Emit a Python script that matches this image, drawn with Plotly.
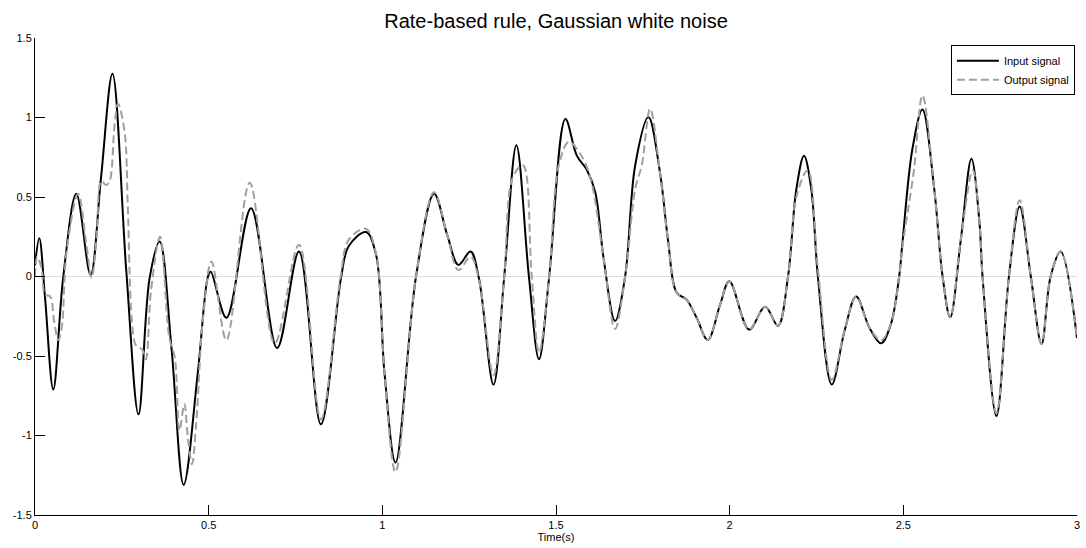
import plotly.graph_objects as go

# ---- data ----
input_t = [0.000, 0.0124, 0.029, 0.0526, 0.081, 0.119, 0.160, 0.190, 0.223, 0.263,
           0.298, 0.330, 0.359, 0.393, 0.428, 0.469, 0.498, 0.506, 0.551, 0.622,
           0.697, 0.760, 0.823, 0.881, 0.903, 0.953, 0.982, 1.006, 1.038, 1.097,
           1.149, 1.187, 1.219, 1.254, 1.278, 1.320, 1.351, 1.386, 1.422, 1.451,
           1.480, 1.527, 1.560, 1.589, 1.613, 1.637, 1.670, 1.699, 1.728, 1.766,
           1.799, 1.823, 1.847, 1.876, 1.905, 1.937, 1.972, 1.999, 2.056, 2.102,
           2.139, 2.168, 2.192, 2.214, 2.235, 2.254, 2.294, 2.331, 2.364, 2.402,
           2.436, 2.464, 2.488, 2.497, 2.526, 2.555, 2.589, 2.613, 2.635, 2.666,
           2.696, 2.719, 2.728, 2.768, 2.804, 2.835, 2.867, 2.898, 2.924, 2.953,
           3.000]
input_v = [0.07, 0.24, -0.136, -0.71, -0.01, 0.52, 0.01, 0.62, 1.275, 0.03,
           -0.867, -0.01, 0.22, -0.45, -1.31, -0.60, 0.00, 0.03, -0.26, 0.43,
           -0.45, 0.157, -0.93, -0.01, 0.19, 0.28, 0.136, -0.60, -1.17, 0.00,
           0.52, 0.26, 0.073, 0.157, -0.01, -0.68, 0.00, 0.825, 0.00, -0.52,
           -0.01, 0.99, 0.76, 0.67, 0.53, 0.115, -0.28, 0.00, 0.70, 1.003,
           0.66, 0.22, -0.10, -0.146, -0.26, -0.40, -0.18, -0.03, -0.334, -0.19,
           -0.31, 0.00, 0.55, 0.76, 0.55, 0.00, -0.68, -0.34, -0.125, -0.32,
           -0.42, -0.30, 0.00, 0.20, 0.80, 1.05, 0.55, 0.00, -0.257, 0.24,
           0.74, 0.345, 0.00, -0.878, 0.00, 0.44, 0.00, -0.424, 0.00, 0.157,
           -0.387]

output_t = [0.000, 0.0066, 0.019, 0.029, 0.0435, 0.055, 0.067, 0.077, 0.091, 0.124,
            0.148, 0.163, 0.177, 0.191, 0.205, 0.215, 0.229, 0.239, 0.258, 0.267,
            0.279, 0.290, 0.309, 0.319, 0.334, 0.360, 0.387, 0.4025, 0.416, 0.430,
            0.440, 0.452, 0.464, 0.483, 0.508, 0.551, 0.618, 0.690, 0.760, 0.823,
            0.880, 0.903, 0.953, 0.982, 1.006, 1.038, 1.097, 1.149, 1.187, 1.219,
            1.254, 1.278, 1.320, 1.351, 1.375, 1.405, 1.430, 1.451, 1.480, 1.508,
            1.537, 1.570, 1.599, 1.637, 1.670, 1.699, 1.728, 1.747, 1.771, 1.799,
            1.823, 1.847, 1.876, 1.905, 1.937, 1.972, 1.999, 2.056, 2.102, 2.139,
            2.168, 2.192, 2.225, 2.254, 2.294, 2.331, 2.364, 2.402, 2.436, 2.464,
            2.488, 2.497, 2.530, 2.555, 2.589, 2.613, 2.635, 2.666, 2.700, 2.719,
            2.728, 2.768, 2.804, 2.835, 2.867, 2.898, 2.924, 2.953, 3.000]
output_v = [0.00, 0.125, 0.05, -0.115, -0.125, -0.28, -0.40, -0.32, 0.157, 0.52,
            0.20, -0.01, 0.24, 0.60, 0.575, 0.60, 0.95, 1.087, 0.91, 0.45,
            -0.28, -0.43, -0.46, -0.52, -0.09, 0.25, -0.39, -0.51, -0.97, -0.80,
            -1.01, -1.18, -0.93, -0.28, 0.095, -0.40, 0.59, -0.42, 0.20, -0.90,
            0.00, 0.23, 0.30, 0.14, -0.60, -1.23, 0.00, 0.53, 0.26, 0.04,
            0.125, -0.02, -0.62, 0.00, 0.62, 0.70, 0.00, -0.48, -0.01, 0.70,
            0.846, 0.77, 0.62, 0.115, -0.33, 0.00, 0.55, 0.70, 1.055, 0.66,
            0.22, -0.10, -0.146, -0.26, -0.40, -0.18, -0.03, -0.334, -0.19, -0.31,
            0.00, 0.50, 0.67, 0.05, -0.65, -0.34, -0.125, -0.32, -0.40, -0.30,
            0.00, 0.18, 0.66, 1.14, 0.55, 0.00, -0.257, 0.24, 0.67, 0.345,
            0.00, -0.86, 0.00, 0.48, 0.00, -0.424, 0.00, 0.157, -0.387]

x_tickvals = [0, 0.5, 1, 1.5, 2, 2.5, 3]
x_ticktext = ["0", "0.5", "1", "1.5", "2", "2.5", "3"]
y_tickvals = [-1.5, -1, -0.5, 0, 0.5, 1, 1.5]
y_ticktext = ["-1.5", "-1", "-0.5", "0", "0.5", "1", "1.5"]

FONT = "Liberation Sans, Arial, sans-serif"

fig = go.Figure()
fig.add_trace(go.Scatter(
    x=input_t, y=input_v, mode="lines", name="Input signal",
    line=dict(color="#000000", width=2, shape="spline", smoothing=1.0),
))
fig.add_trace(go.Scatter(
    x=output_t, y=output_v, mode="lines", name="Output signal",
    line=dict(color="#a0a0a0", width=2, dash="8px,4px", shape="spline", smoothing=1.0),
))

fig.update_layout(
    width=1086, height=548,
    margin=dict(l=35, r=6, t=38, b=32),
    paper_bgcolor="white", plot_bgcolor="white",
    font=dict(family=FONT, size=11, color="#000000"),
    title=dict(text="Rate-based rule, Gaussian white noise",
               font=dict(family=FONT, size=20, color="#000000"),
               x=0.5, xanchor="center", xref="paper",
               y=0.962, yanchor="middle", yref="container"),
    showlegend=True,
    legend=dict(x=0.998, xanchor="right", y=0.985, yanchor="top",
                bgcolor="white", bordercolor="#000000", borderwidth=1,
                font=dict(family=FONT, size=11, color="#000000"),
                tracegroupgap=0, itemwidth=42),
)
fig.update_xaxes(
    range=[0, 3], tickvals=x_tickvals, ticktext=x_ticktext,
    showline=True, linecolor="#000000", linewidth=1, mirror=False,
    ticks="inside", ticklen=10, tickcolor="#000000", tickwidth=1,
    showgrid=False, zeroline=False,
    tickfont=dict(family=FONT, size=11, color="#000000"),
    title=dict(text="Time(s)", font=dict(family=FONT, size=11, color="#000000"), standoff=3),
)
fig.update_yaxes(
    range=[-1.5, 1.5], tickvals=y_tickvals, ticktext=y_ticktext,
    showline=True, linecolor="#000000", linewidth=1, mirror=False,
    ticks="inside", ticklen=10, tickcolor="#000000", tickwidth=1,
    showgrid=False, zeroline=True, zerolinecolor="#dedede", zerolinewidth=1,
    tickfont=dict(family=FONT, size=11, color="#000000"),
)

fig.write_html("out.html")
